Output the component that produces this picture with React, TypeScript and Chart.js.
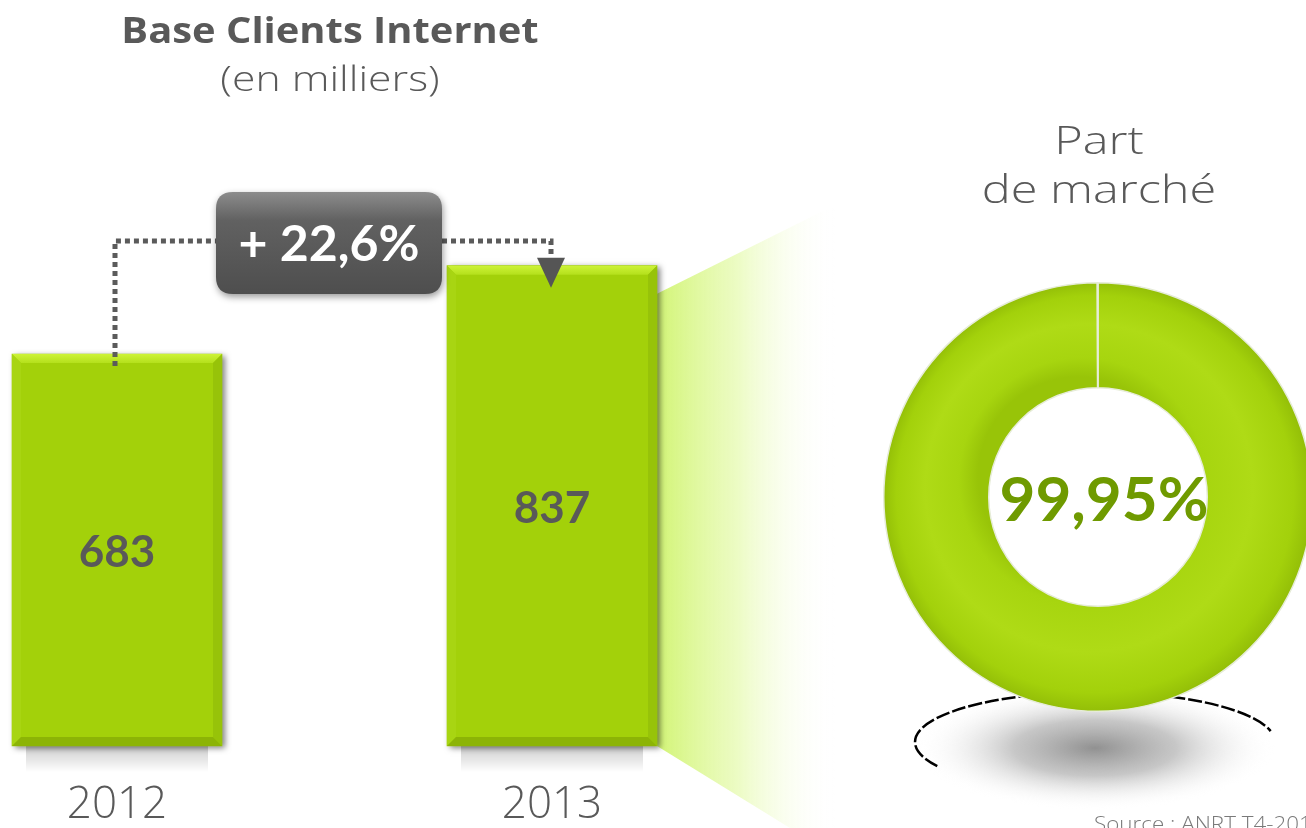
import { useEffect, useRef } from 'react';
import { Chart, registerables } from 'chart.js';

Chart.register(...registerables);

// ---- data ----
const years = ['2012', '2013'];
const clients = [683, 837];
const clientLabels = ['683', '837'];
const growthLabel = '+ 22,6%';
const shareLabels = ['Part de marché', 'Autres'];
const shareValues = [99.95, 0.05];
const shareText = '99,95%';
const titleLines = ['Base Clients Internet', '(en milliers)'];
const shareTitle = ['Part', 'de marché'];
const sourceText = 'Source : ANRT T4-2013';

const GRAY = '#595959';
const GREEN = '#a3d10a';
const FONT = 'Lato, "Open Sans", sans-serif';
const WIDE = '"Open Sans", Lato, sans-serif';

function poly(ctx: CanvasRenderingContext2D, pts: number[][], fill: string | CanvasGradient) {
  ctx.beginPath();
  ctx.moveTo(pts[0][0], pts[0][1]);
  for (let i = 1; i < pts.length; i++) ctx.lineTo(pts[i][0], pts[i][1]);
  ctx.closePath();
  ctx.fillStyle = fill;
  ctx.fill();
}

function stretchText(
  ctx: CanvasRenderingContext2D,
  text: string,
  x: number,
  y: number,
  sx: number,
  align: CanvasTextAlign = 'center',
  baseline: CanvasTextBaseline = 'middle',
) {
  ctx.save();
  ctx.translate(x, y);
  ctx.scale(sx, 1);
  ctx.textAlign = align;
  ctx.textBaseline = baseline;
  ctx.fillText(text, 0, 0);
  ctx.restore();
}

function roundRect(ctx: CanvasRenderingContext2D, x: number, y: number, w: number, h: number, r: number) {
  ctx.beginPath();
  ctx.moveTo(x + r, y);
  ctx.lineTo(x + w - r, y);
  ctx.quadraticCurveTo(x + w, y, x + w, y + r);
  ctx.lineTo(x + w, y + h - r);
  ctx.quadraticCurveTo(x + w, y + h, x + w - r, y + h);
  ctx.lineTo(x + r, y + h);
  ctx.quadraticCurveTo(x, y + h, x, y + h - r);
  ctx.lineTo(x, y + r);
  ctx.quadraticCurveTo(x, y, x + r, y);
  ctx.closePath();
}

const barDecor = {
  id: 'barDecor',
  beforeDraw(chart: any) {
    const ctx: CanvasRenderingContext2D = chart.ctx;
    const meta = chart.getDatasetMeta(0);
    const b1 = meta.data[1].getProps(['x', 'y', 'base', 'width'], true);
    ctx.save();
    // glow from 2013 bar towards doughnut
    const xr = b1.x + b1.width / 2;
    const g = ctx.createLinearGradient(xr, 0, 835, 0);
    g.addColorStop(0, 'rgba(208,244,110,0.95)');
    g.addColorStop(0.45, 'rgba(228,250,170,0.7)');
    g.addColorStop(1, 'rgba(255,255,255,0)');
    poly(ctx, [[xr, b1.y + 28], [835, 205], [835, 828], [790, 828], [xr, b1.base]], g);

    // shadow below doughnut
    const cx = 1095, cy = 742, rx = 180, ry = 50;
    ctx.save();
    ctx.translate(cx, cy + 6);
    ctx.scale(1, 62 / rx);
    const rg = ctx.createRadialGradient(0, 0, 0, 0, 0, rx);
    rg.addColorStop(0, 'rgba(145,145,145,1)');
    rg.addColorStop(0.45, 'rgba(180,180,180,0.75)');
    rg.addColorStop(1, 'rgba(255,255,255,0)');
    ctx.fillStyle = rg;
    ctx.beginPath();
    ctx.arc(0, 0, rx, 0, Math.PI * 2);
    ctx.fill();
    ctx.restore();
    ctx.setLineDash([14, 3]);
    ctx.lineWidth = 2.5;
    ctx.strokeStyle = '#000';
    ctx.beginPath();
    ctx.ellipse(cx, cy, rx, ry, 0, Math.PI * 0.84, Math.PI * 1.93);
    ctx.stroke();
    ctx.setLineDash([]);

    // titles
    ctx.fillStyle = GRAY;
    ctx.font = `bold 35px ${WIDE}`;
    stretchText(ctx, titleLines[0], 330, 33, 1.14);
    ctx.font = `300 35px ${WIDE}`;
    stretchText(ctx, titleLines[1], 330, 81, 1.22);
    ctx.font = `300 38px ${WIDE}`;
    stretchText(ctx, shareTitle[0], 1099, 143, 1.28);
    stretchText(ctx, shareTitle[1], 1099, 192, 1.28);
    ctx.font = `300 20px ${WIDE}`;
    ctx.fillStyle = '#7a7a7a';
    stretchText(ctx, sourceText, 1094, 831, 1.12, 'left', 'alphabetic');
    ctx.restore();
  },
  beforeDatasetsDraw(chart: any) {
    const ctx: CanvasRenderingContext2D = chart.ctx;
    const meta = chart.getDatasetMeta(0);
    ctx.save();
    meta.data.forEach((el: any) => {
      const b = el.getProps(['x', 'y', 'base', 'width'], true);
      const x0 = b.x - b.width / 2;
      const sg = ctx.createLinearGradient(0, b.base, 0, b.base + 26);
      sg.addColorStop(0, 'rgba(0,0,0,0.2)');
      sg.addColorStop(1, 'rgba(0,0,0,0)');
      ctx.fillStyle = sg;
      ctx.fillRect(x0 + 14, b.base, b.width - 28, 26);
    });
    ctx.restore();
    ctx.save();
    ctx.shadowColor = 'rgba(0,0,0,0.5)';
    ctx.shadowBlur = 6;
    ctx.shadowOffsetX = 3;
    ctx.shadowOffsetY = 2;
  },
  afterDatasetsDraw(chart: any) {
    const ctx: CanvasRenderingContext2D = chart.ctx;
    ctx.restore();
    const meta = chart.getDatasetMeta(0);
    const bars = meta.data.map((el: any) => el.getProps(['x', 'y', 'base', 'width'], true));
    ctx.save();
    bars.forEach((b: any, i: number) => {
      const x0 = b.x - b.width / 2, x1 = b.x + b.width / 2, y0 = b.y, y1 = b.base, k = 9;
      const tg = ctx.createLinearGradient(0, y0, 0, y0 + k);
      tg.addColorStop(0, '#cdf337');
      tg.addColorStop(1, '#b4e01c');
      poly(ctx, [[x0, y0], [x1, y0], [x1 - k, y0 + k], [x0 + k, y0 + k]], tg);
      poly(ctx, [[x0, y0], [x0 + k, y0 + k], [x0 + k, y1 - k], [x0, y1]], '#a8d512');
      poly(ctx, [[x1, y0], [x1, y1], [x1 - k, y1 - k], [x1 - k, y0 + k]], '#97c309');
      poly(ctx, [[x0, y1], [x1, y1], [x1 - k, y1 - k], [x0 + k, y1 - k]], '#8cb406');
      ctx.fillStyle = GRAY;
      ctx.textAlign = 'center';
      ctx.textBaseline = 'middle';
      ctx.font = `bold 44px ${FONT}`;
      ctx.fillText(clientLabels[i], b.x, (y0 + y1) / 2 + 3);
    });

    // connector
    const b0 = bars[0], b1 = bars[1];
    const lineY = 241;
    const boxL = 216, boxR = 442, boxT = 192, boxB = 294;
    ctx.strokeStyle = '#5b5b5b';
    ctx.lineWidth = 5;
    ctx.setLineDash([5, 4]);
    ctx.beginPath();
    ctx.moveTo(b0.x - 2, b0.y + 12);
    ctx.lineTo(b0.x - 2, lineY);
    ctx.lineTo(boxL, lineY);
    ctx.stroke();
    ctx.beginPath();
    ctx.moveTo(boxR, lineY);
    ctx.lineTo(b1.x - 1, lineY);
    ctx.lineTo(b1.x - 1, b1.y - 8);
    ctx.stroke();
    ctx.setLineDash([]);
    poly(ctx, [[b1.x - 15, b1.y - 8], [b1.x + 13, b1.y - 8], [b1.x - 1, b1.y + 22]], '#555555');

    // growth box
    ctx.save();
    ctx.shadowColor = 'rgba(0,0,0,0.4)';
    ctx.shadowBlur = 7;
    ctx.shadowOffsetY = 3;
    ctx.shadowOffsetX = 1;
    roundRect(ctx, boxL, boxT, boxR - boxL, boxB - boxT, 17);
    const bg = ctx.createLinearGradient(0, boxT, 0, boxB);
    bg.addColorStop(0, '#8c8c8c');
    bg.addColorStop(0.28, '#616161');
    bg.addColorStop(1, '#4e4e4e');
    ctx.fillStyle = bg;
    ctx.fill();
    ctx.restore();
    ctx.fillStyle = '#ffffff';
    ctx.textAlign = 'center';
    ctx.textBaseline = 'middle';
    ctx.font = `bold 50px ${FONT}`;
    ctx.fillText(growthLabel, (boxL + boxR) / 2, 245);
    ctx.restore();
  },
};

const donutDecor = {
  id: 'donutDecor',
  afterDraw(chart: any) {
    const ctx: CanvasRenderingContext2D = chart.ctx;
    const a = chart.chartArea;
    ctx.save();
    ctx.fillStyle = '#6f9a00';
    ctx.textAlign = 'center';
    ctx.textBaseline = 'middle';
    ctx.font = `bold 62px ${FONT}`;
    ctx.fillText(shareText, (a.left + a.right) / 2 + 6, (a.top + a.bottom) / 2 + 4);
    ctx.restore();
  },
};

export default function App() {
  const barRef = useRef<HTMLCanvasElement>(null);
  const pieRef = useRef<HTMLCanvasElement>(null);

  useEffect(() => {
    const bar = new Chart(barRef.current!, {
      type: 'bar',
      data: {
        labels: years,
        datasets: [
          {
            data: clients,
            backgroundColor: GREEN,
            borderWidth: 0,
            barThickness: 210,
            clip: false as any,
          } as any,
        ],
      },
      options: {
        responsive: false,
        animation: false,
        layout: { padding: { left: 117, right: 754, top: 0, bottom: 0 } },
        plugins: { legend: { display: false }, tooltip: { enabled: false } },
        scales: {
          x: {
            offset: false,
            grid: { display: false, drawTicks: false },
            border: { display: false },
            ticks: {
              padding: 37,
              color: GRAY,
              font: { family: WIDE, size: 44, weight: '300' as any, lineHeight: 1 },
            },
          },
          y: { display: false, min: 0, max: 1300 },
        },
      },
      plugins: [barDecor],
    });

    const pie = new Chart(pieRef.current!, {
      type: 'doughnut',
      data: {
        labels: shareLabels,
        datasets: [
          {
            data: shareValues,
            borderColor: '#e6ecd8',
            borderWidth: 1.5,
            backgroundColor: (c: any) => {
              const area = c.chart.chartArea;
              if (!area) return GREEN;
              const cx = (area.left + area.right) / 2;
              const cy = (area.top + area.bottom) / 2;
              const g = c.chart.ctx.createRadialGradient(cx - 20, cy - 20, 100, cx, cy, 216);
              g.addColorStop(0, '#98c408');
              g.addColorStop(0.2, '#a7d50f');
              g.addColorStop(0.55, '#afdb16');
              g.addColorStop(0.85, '#a3d10b');
              g.addColorStop(1, '#92bd07');
              return g;
            },
          },
        ],
      },
      options: {
        responsive: false,
        animation: false,
        cutout: '51%',
        layout: { padding: { left: 15, right: 15, top: 182, bottom: 116 } },
        plugins: { legend: { display: false }, tooltip: { enabled: false } },
      },
      plugins: [donutDecor],
    });

    return () => {
      bar.destroy();
      pie.destroy();
    };
  }, []);

  return (
    <div
      style={{
        position: 'fixed',
        left: 0,
        top: 0,
        width: 1306,
        height: 828,
        overflow: 'hidden',
        background: '#ffffff',
      }}
    >
      <canvas
        ref={barRef}
        width={1306}
        height={864}
        style={{ position: 'absolute', left: 0, top: 0, width: 1306, height: 864 }}
      />
      <canvas
        ref={pieRef}
        width={460}
        height={728}
        style={{ position: 'absolute', left: 868, top: 100, width: 460, height: 728 }}
      />
    </div>
  );
}
